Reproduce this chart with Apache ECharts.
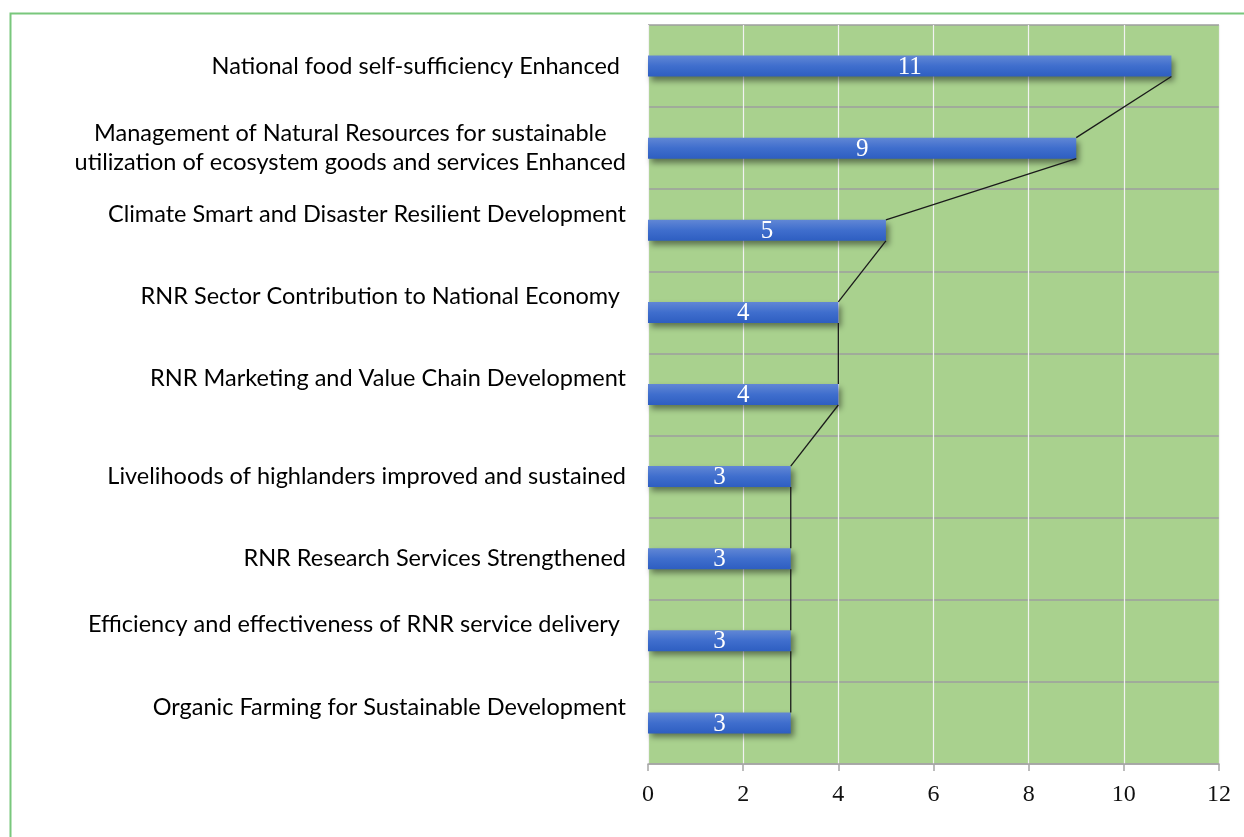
<!DOCTYPE html>
<html>
<head>
<meta charset="utf-8">
<script src="https://cdn.jsdelivr.net/npm/echarts@6/dist/echarts.min.js"></script>
<style>
  html, body { margin: 0; padding: 0; background: #ffffff; }
  #chart { width: 1244px; height: 837px; }
</style>
</head>
<body>
<div id="chart"></div>
<script>
// Outcome areas (top to bottom) and number of programmes under each
const categories = [
  'National food self-sufficiency Enhanced ',
  'Management of Natural Resources for sustainable\nutilization of ecosystem goods and services Enhanced',
  'Climate Smart and Disaster Resilient Development',
  'RNR Sector Contribution to National Economy ',
  'RNR Marketing and Value Chain Development',
  'Livelihoods of highlanders improved and sustained',
  'RNR Research Services Strengthened',
  'Efficiency and effectiveness of RNR service delivery ',
  'Organic Farming for Sustainable Development'
];
const counts = [11, 9, 5, 4, 4, 3, 3, 3, 3];
const valueTicks = [0, 2, 4, 6, 8, 10, 12];

// Category labels that sit a little above their bar
const raisedLabels = [2, 3, 4, 7, 8];

const BAR_H = 21;
const LABEL_FONT = 'Lato';
const LABEL_SIZE = 23.5;
const NUM_FONT = 'Liberation Serif';

// Connector segments from the end of one bar to the end of the next
const connectorData = counts.slice(0, -1).map((v, i) => [v, i, counts[i + 1]]);

const chart = echarts.init(document.getElementById('chart'), null, { renderer: 'canvas' });

chart.setOption({
  animation: false,
  backgroundColor: '#ffffff',
  graphic: [{
    type: 'rect',
    left: 8, top: 11,
    shape: { width: 1400, height: 1000 },
    style: { fill: 'none', stroke: '#79c77c', lineWidth: 2 },
    silent: true,
    z: -1
  }],
  grid: {
    left: 648, right: 25, top: 25, bottom: 73,
    show: true,
    backgroundColor: '#a9d18e',
    borderWidth: 0
  },
  xAxis: {
    type: 'value',
    min: valueTicks[0],
    max: valueTicks[valueTicks.length - 1],
    interval: 2,
    axisLine: { show: true, lineStyle: { color: '#a6a6a6', width: 1.5 } },
    axisTick: { show: true, length: 7, lineStyle: { color: '#a6a6a6', width: 1.5 } },
    axisLabel: {
      color: '#111111',
      fontFamily: NUM_FONT,
      fontSize: 24,
      margin: 19
    },
    splitLine: { show: true, lineStyle: { color: '#f2f2f2', width: 1.2 } }
  },
  yAxis: {
    type: 'category',
    inverse: true,
    data: categories,
    axisLine: { show: false },
    axisTick: { show: false },
    splitLine: { show: true, lineStyle: { color: '#9e9e9e', width: 1.5 } },
    axisLabel: {
      margin: 22,
      color: '#000000',
      fontFamily: LABEL_FONT,
      fontSize: LABEL_SIZE,
      lineHeight: 29,
      formatter: function (val, idx) {
        const lines = val.split('\n');
        const key = raisedLabels.indexOf(idx) >= 0 ? 'up' : 'c';
        return lines.map(l => '{' + key + '|' + l + '}').join('\n');
      },
      rich: {
        c: { align: 'center', fontFamily: LABEL_FONT, fontSize: LABEL_SIZE, lineHeight: 29, color: '#000000' },
        up: { align: 'center', fontFamily: LABEL_FONT, fontSize: LABEL_SIZE, lineHeight: 29, color: '#000000', padding: [0, 0, 32, 0] }
      }
    }
  },
  series: [
    {
      type: 'bar',
      data: counts,
      barWidth: BAR_H,
      itemStyle: {
        color: new echarts.graphic.LinearGradient(0, 0, 0, 1, [
          { offset: 0, color: '#6187d5' },
          { offset: 0.5, color: '#3f6ecd' },
          { offset: 1, color: '#2e5ec1' }
        ]),
        shadowColor: 'rgba(0,0,0,0.45)',
        shadowBlur: 6,
        shadowOffsetX: 3,
        shadowOffsetY: 4
      },
      label: {
        show: true,
        position: 'inside',
        offset: [0, 1],
        color: '#ffffff',
        fontFamily: NUM_FONT,
        fontSize: 25
      },
      z: 2
    },
    {
      type: 'custom',
      data: connectorData,
      encode: { x: 0, y: 1 },
      z: 3,
      renderItem: function (params, api) {
        const a = api.coord([api.value(0), api.value(1)]);
        const b = api.coord([api.value(2), api.value(1) + 1]);
        return {
          type: 'line',
          shape: { x1: a[0], y1: a[1] + BAR_H / 2, x2: b[0], y2: b[1] - BAR_H / 2 },
          style: { stroke: '#1a1a1a', lineWidth: 1.3 }
        };
      }
    }
  ]
});
</script>
</body>
</html>
